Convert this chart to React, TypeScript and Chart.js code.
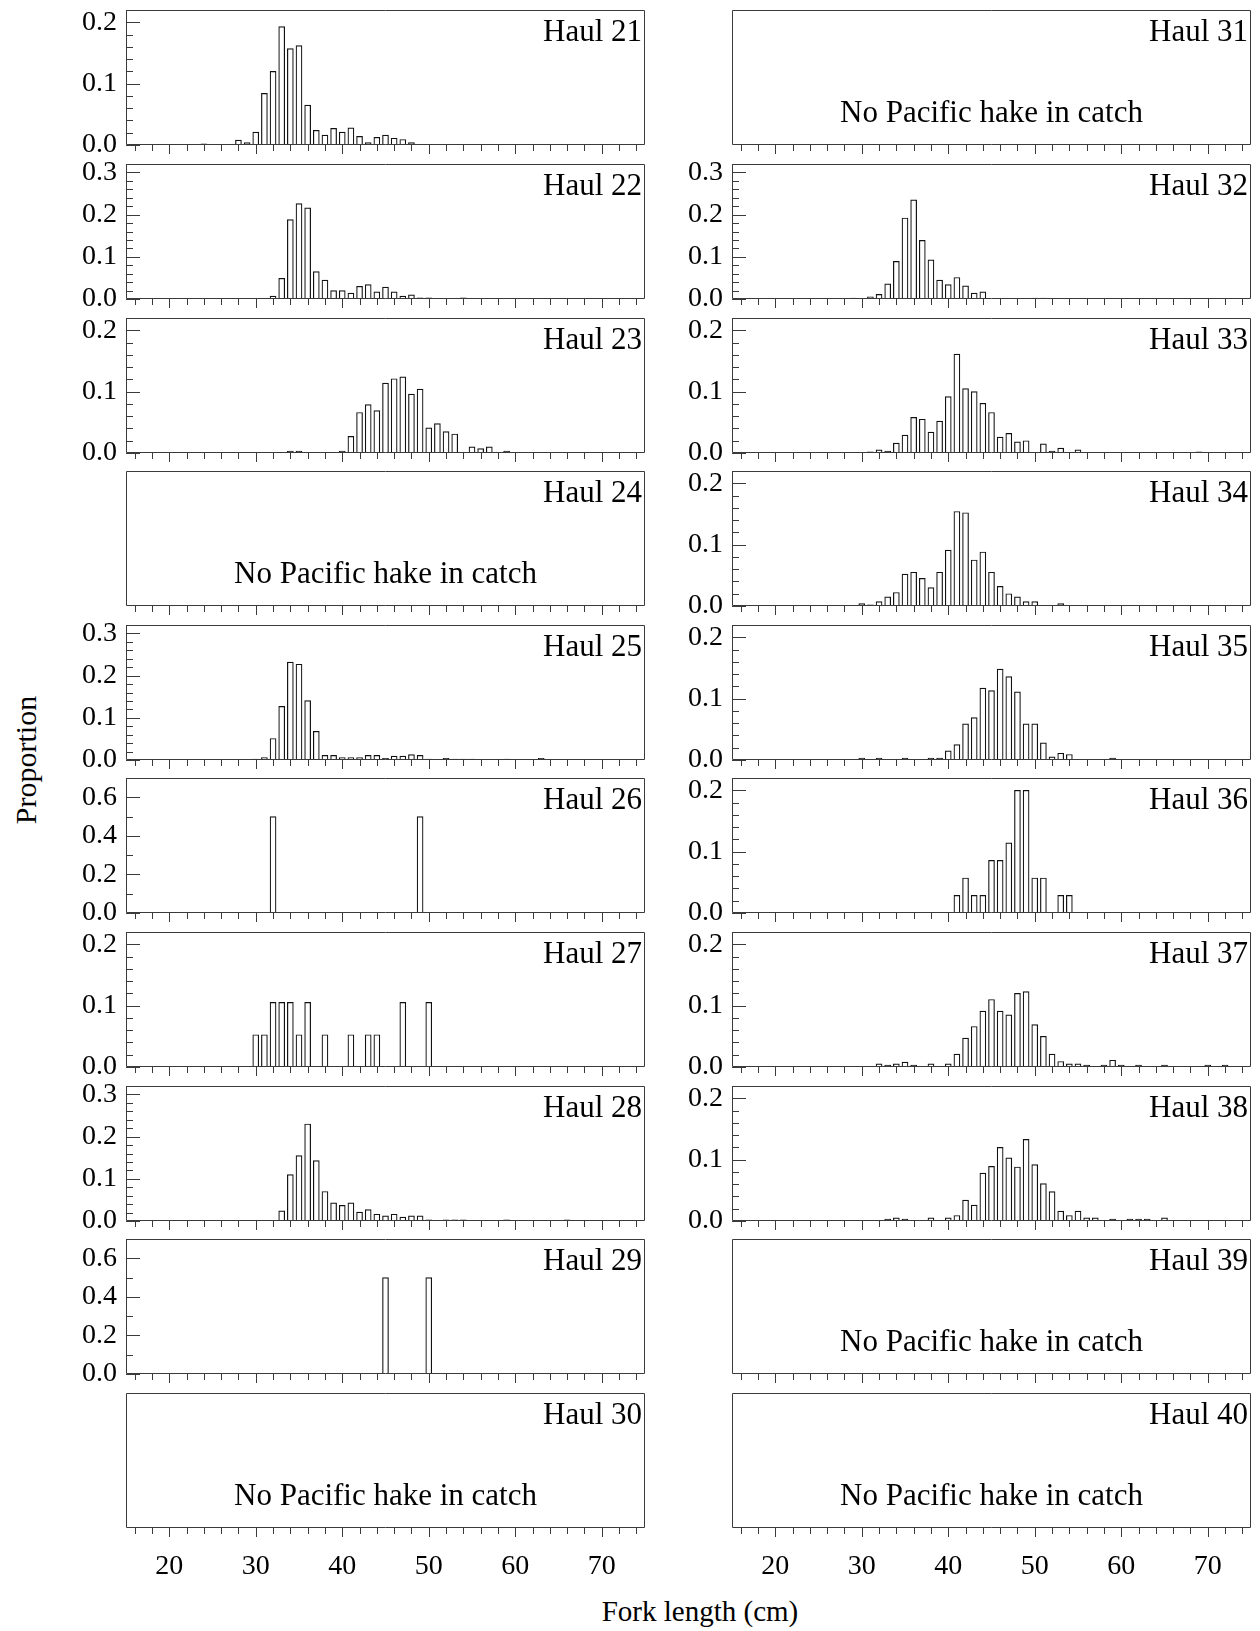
import React, { useEffect, useRef } from "react";
import { Chart, registerables } from "chart.js";

Chart.register(...registerables);

// ---------- data ----------
const haul21Len = [24, 28, 29, 30, 31, 32, 33, 34, 35, 36, 37, 38, 39, 40, 41, 42, 43, 44, 45, 46, 47, 48];
const haul21Prop = [0.002, 0.008, 0.004, 0.021, 0.084, 0.12, 0.193, 0.157, 0.162, 0.065, 0.024, 0.016, 0.027, 0.021, 0.028, 0.014, 0.004, 0.0125, 0.016, 0.011, 0.009, 0.004];

const haul22Len = [32, 33, 34, 35, 36, 37, 38, 39, 40, 41, 42, 43, 44, 45, 46, 47, 48, 49, 50, 54];
const haul22Prop = [0.007, 0.049, 0.188, 0.226, 0.216, 0.065, 0.045, 0.02, 0.02, 0.014, 0.03, 0.034, 0.017, 0.028, 0.017, 0.007, 0.0096, 0.003, 0.003, 0.003];

const haul23Len = [34, 35, 40, 41, 42, 43, 44, 45, 46, 47, 48, 49, 50, 51, 52, 53, 55, 56, 57, 59];
const haul23Prop = [0.003, 0.003, 0.003, 0.027, 0.066, 0.079, 0.069, 0.114, 0.121, 0.124, 0.096, 0.104, 0.041, 0.048, 0.035, 0.031, 0.01, 0.007, 0.01, 0.003];

const haul24Len: number[] = [];
const haul24Prop: number[] = [];

const haul25Len = [30, 31, 32, 33, 34, 35, 36, 37, 38, 39, 40, 41, 42, 43, 44, 45, 46, 47, 48, 49, 50, 52, 53, 54, 55, 59, 63];
const haul25Prop = [0.002, 0.006, 0.051, 0.127, 0.232, 0.227, 0.141, 0.068, 0.011, 0.011, 0.006, 0.006, 0.006, 0.011, 0.011, 0.004, 0.009, 0.009, 0.013, 0.011, 0.002, 0.004, 0.002, 0.002, 0.002, 0.002, 0.004];

const haul26Len = [32, 49];
const haul26Prop = [0.5, 0.5];

const haul27Len = [30, 31, 32, 33, 34, 35, 36, 38, 41, 43, 44, 47, 50];
const haul27Prop = [0.0526, 0.0526, 0.1053, 0.1053, 0.1053, 0.0526, 0.1053, 0.0526, 0.0526, 0.0526, 0.0526, 0.1053, 0.1053];

const haul28Len = [33, 34, 35, 36, 37, 38, 39, 40, 41, 42, 43, 44, 45, 46, 47, 48, 49, 50, 52, 53, 54, 59, 66];
const haul28Prop = [0.024, 0.11, 0.155, 0.23, 0.143, 0.07, 0.043, 0.037, 0.043, 0.021, 0.027, 0.016, 0.012, 0.016, 0.009, 0.012, 0.012, 0.003, 0.003, 0.003, 0.003, 0.003, 0.003];

const haul29Len = [45, 50];
const haul29Prop = [0.5, 0.5];

const haul30Len: number[] = [];
const haul30Prop: number[] = [];

const haul31Len: number[] = [];
const haul31Prop: number[] = [];

const haul32Len = [29, 31, 32, 33, 34, 35, 36, 37, 38, 39, 40, 41, 42, 43, 44, 50, 51];
const haul32Prop = [0.002, 0.005, 0.011, 0.036, 0.089, 0.192, 0.235, 0.139, 0.093, 0.045, 0.034, 0.051, 0.031, 0.014, 0.017, 0.002, 0.002];

const haul33Len = [31, 32, 33, 34, 35, 36, 37, 38, 39, 40, 41, 42, 43, 44, 45, 46, 47, 48, 49, 51, 52, 53, 55, 69];
const haul33Prop = [0.002, 0.005, 0.003, 0.016, 0.029, 0.058, 0.055, 0.034, 0.052, 0.092, 0.161, 0.105, 0.1, 0.081, 0.066, 0.026, 0.032, 0.018, 0.02, 0.015, 0.003, 0.008, 0.005, 0.002];

const haul34Len = [30, 31, 32, 33, 34, 35, 36, 37, 38, 39, 40, 41, 42, 43, 44, 45, 46, 47, 48, 49, 50, 53, 58];
const haul34Prop = [0.004, 0.002, 0.007, 0.015, 0.022, 0.052, 0.055, 0.045, 0.03, 0.055, 0.091, 0.154, 0.152, 0.075, 0.088, 0.055, 0.032, 0.02, 0.015, 0.007, 0.007, 0.004, 0.001];

const haul35Len = [30, 32, 35, 38, 39, 40, 41, 42, 43, 44, 45, 46, 47, 48, 49, 50, 51, 52, 53, 54, 59];
const haul35Prop = [0.003, 0.003, 0.003, 0.003, 0.003, 0.015, 0.025, 0.059, 0.069, 0.117, 0.113, 0.148, 0.136, 0.111, 0.059, 0.059, 0.028, 0.005, 0.011, 0.009, 0.003];

const haul36Len = [41, 42, 43, 44, 45, 46, 47, 48, 49, 50, 51, 53, 54];
const haul36Prop = [0.0286, 0.0571, 0.0286, 0.0286, 0.0857, 0.0857, 0.1143, 0.2, 0.2, 0.0571, 0.0571, 0.0286, 0.0286];

const haul37Len = [32, 33, 34, 35, 36, 38, 40, 41, 42, 43, 44, 45, 46, 47, 48, 49, 50, 51, 52, 53, 54, 55, 56, 58, 59, 60, 62, 65, 70, 72];
const haul37Prop = [0.005, 0.003, 0.005, 0.008, 0.003, 0.005, 0.005, 0.021, 0.047, 0.066, 0.091, 0.11, 0.091, 0.085, 0.12, 0.123, 0.069, 0.05, 0.021, 0.009, 0.005, 0.005, 0.003, 0.003, 0.011, 0.003, 0.003, 0.003, 0.003, 0.003];

const haul38Len = [33, 34, 35, 38, 40, 41, 42, 43, 44, 45, 46, 47, 48, 49, 50, 51, 52, 53, 54, 55, 56, 57, 59, 61, 62, 63, 65];
const haul38Prop = [0.003, 0.005, 0.003, 0.005, 0.005, 0.009, 0.034, 0.026, 0.078, 0.089, 0.12, 0.103, 0.088, 0.133, 0.092, 0.061, 0.048, 0.016, 0.009, 0.016, 0.005, 0.005, 0.003, 0.003, 0.003, 0.003, 0.005];

const haul39Len: number[] = [];
const haul39Prop: number[] = [];

const haul40Len: number[] = [];
const haul40Prop: number[] = [];

const haulNumbers = [21, 22, 23, 24, 25, 26, 27, 28, 29, 30, 31, 32, 33, 34, 35, 36, 37, 38, 39, 40];
const haulLengths = [haul21Len, haul22Len, haul23Len, haul24Len, haul25Len, haul26Len, haul27Len, haul28Len, haul29Len, haul30Len, haul31Len, haul32Len, haul33Len, haul34Len, haul35Len, haul36Len, haul37Len, haul38Len, haul39Len, haul40Len];
const haulProps = [haul21Prop, haul22Prop, haul23Prop, haul24Prop, haul25Prop, haul26Prop, haul27Prop, haul28Prop, haul29Prop, haul30Prop, haul31Prop, haul32Prop, haul33Prop, haul34Prop, haul35Prop, haul36Prop, haul37Prop, haul38Prop, haul39Prop, haul40Prop];

// y-axis maximum and labelled step for each haul
const haulYMax = [0.22, 0.32, 0.22, 0.22, 0.32, 0.7, 0.22, 0.32, 0.7, 0.22, 0.22, 0.32, 0.22, 0.22, 0.22, 0.22, 0.22, 0.22, 0.22, 0.22];
const haulYStep = [0.1, 0.1, 0.1, 0.1, 0.1, 0.2, 0.1, 0.1, 0.2, 0.1, 0.1, 0.1, 0.1, 0.1, 0.1, 0.1, 0.1, 0.1, 0.1, 0.1];
const haulYMinor = [0.02, 0.02, 0.02, 0.02, 0.02, 0.1, 0.02, 0.02, 0.1, 0.02, 0.02, 0.02, 0.02, 0.02, 0.02, 0.02, 0.02, 0.02, 0.02, 0.02];

const xMin = 15;
const xMax = 75;
const xTickLabels = [20, 30, 40, 50, 60, 70];
const xMinorStep = 2;

const emptyText = "No Pacific hake in catch";
const xTitle = "Fork length (cm)";
const yTitle = "Proportion";

// ---------- layout ----------
const FONT = '"Liberation Serif", "Times New Roman", serif';
const COL_X = [126, 732];
const PANEL_W = 519;
const PANEL_H = 135;
const ROW_TOP0 = 10.4;
const ROW_PITCH = 153.6;
const PADL = 70;
const PADT = 16;
const PADR = 8;

type PanelProps = {
  idx: number;
  left: number;
  top: number;
  bottomRow: boolean;
};

function Panel({ idx, left, top, bottomRow }: PanelProps) {
  const ref = useRef<HTMLCanvasElement | null>(null);
  const padB = bottomRow ? 64 : 14;
  const W = PADL + PANEL_W + PADR;
  const H = PADT + PANEL_H + padB;

  useEffect(() => {
    const canvas = ref.current;
    if (!canvas) return;
    const lengths = haulLengths[idx];
    const props = haulProps[idx];
    const empty = lengths.length === 0;
    const yMax = haulYMax[idx];
    const yStep = haulYStep[idx];
    const yMinor = haulYMinor[idx];
    const yMajor: number[] = [];
    for (let v = 0; v <= yMax + 1e-9; v += yStep) yMajor.push(Math.round(v * 1000) / 1000);

    const framePlugin = {
      id: "haulFrame",
      afterDraw(chart: any) {
        const { ctx, chartArea } = chart;
        const { left: l, right: r, top: t, bottom: b } = chartArea;
        const xs = chart.scales.x;
        const ys = chart.scales.y;
        ctx.save();
        ctx.strokeStyle = "#3a3a3a";
        ctx.lineWidth = 1;
        ctx.beginPath();
        ctx.rect(Math.round(l) + 0.5, Math.round(t) + 0.5, Math.round(r - l) - 1, Math.round(b - t) - 1);
        ctx.stroke();
        // x ticks (outward)
        ctx.beginPath();
        for (let v = xMin + 1; v < xMax; v += xMinorStep) {
          const px = Math.round(xs.getPixelForValue(v)) + 0.5;
          const len = v % 10 === 0 ? 9 : 6;
          ctx.moveTo(px, b);
          ctx.lineTo(px, b + len);
        }
        ctx.stroke();
        // y ticks (inward)
        if (!empty) {
          ctx.beginPath();
          const n = Math.floor(yMax / yMinor + 1e-6);
          for (let k = 0; k <= n; k++) {
            const v = k * yMinor;
            const ratio = v / yStep;
            const major = Math.abs(ratio - Math.round(ratio)) < 1e-6;
            const py = Math.round(ys.getPixelForValue(v)) + 0.5;
            ctx.moveTo(l, py);
            ctx.lineTo(l + (major ? 14 : 7), py);
          }
          ctx.stroke();
        }
        // labels
        ctx.fillStyle = "#000";
        ctx.font = `31px ${FONT}`;
        ctx.textAlign = "right";
        ctx.textBaseline = "middle";
        ctx.fillText(`Haul ${haulNumbers[idx]}`, r - 3, t + 23);
        if (empty) {
          ctx.textAlign = "center";
          ctx.fillText(emptyText, (l + r) / 2, t + 104);
        }
        ctx.restore();
      },
    };

    const chart = new Chart(canvas, {
      type: "bar",
      data: {
        datasets: [
          {
            data: lengths.map((len, i) => ({ x: len, y: props[i] })),
            backgroundColor: "#ffffff",
            borderColor: "#111111",
            borderWidth: 1.2,
            barThickness: 6,
            borderSkipped: "start",
          } as any,
        ],
      },
      options: {
        animation: false,
        responsive: false,
        devicePixelRatio: 1,
        events: [],
        layout: { padding: { left: 0, top: PADT, right: PADR, bottom: 0 } },
        plugins: { legend: { display: false }, tooltip: { enabled: false }, title: { display: false } },
        scales: {
          x: {
            type: "linear",
            min: xMin,
            max: xMax,
            offset: false,
            grid: { display: false, drawTicks: false },
            border: { display: false },
            ticks: {
              display: bottomRow,
              autoSkip: false,
              maxRotation: 0,
              padding: 22,
              color: "#000",
              font: { family: FONT, size: 28 },
            },
            afterBuildTicks: (s: any) => {
              s.ticks = xTickLabels.map((v) => ({ value: v }));
            },
            afterFit: (s: any) => {
              s.height = padB;
              s.paddingLeft = 0;
              s.paddingRight = 0;
            },
          },
          y: {
            type: "linear",
            min: 0,
            max: yMax,
            grid: { display: false, drawTicks: false },
            border: { display: false },
            ticks: {
              display: !empty,
              padding: 9,
              color: "#000",
              font: { family: FONT, size: 28 },
              callback: (v: any) => Number(v).toFixed(1),
            },
            afterBuildTicks: (s: any) => {
              s.ticks = yMajor.map((v) => ({ value: v }));
            },
            afterFit: (s: any) => {
              s.width = PADL;
              s.paddingTop = 0;
              s.paddingBottom = 0;
            },
          },
        },
      } as any,
      plugins: [framePlugin as any],
    });
    return () => chart.destroy();
  }, [idx, bottomRow]);

  return (
    <canvas
      ref={ref}
      width={W}
      height={H}
      style={{ position: "absolute", left: left - PADL, top: top - PADT, width: W, height: H }}
    />
  );
}

export default function App() {
  const panels = haulNumbers.map((h, i) => {
    const col = i < 10 ? 0 : 1;
    const row = i % 10;
    const top = Math.round(ROW_TOP0 + row * ROW_PITCH);
    return <Panel key={h} idx={i} left={COL_X[col]} top={top} bottomRow={row === 9} />;
  });
  return (
    <div style={{ position: "absolute", left: 0, top: 0, width: 1260, height: 1631, background: "#fff", overflow: "hidden" }}>
      {panels}
      <div
        style={{
          position: "absolute",
          left: 700 - 150,
          width: 300,
          top: 1611 - 18,
          textAlign: "center",
          fontFamily: FONT,
          fontSize: 29,
          lineHeight: "36px",
          color: "#000",
        }}
      >
        {xTitle}
      </div>
      <div
        style={{
          position: "absolute",
          left: 26 - 100,
          top: 760 - 18,
          width: 200,
          textAlign: "center",
          fontFamily: FONT,
          fontSize: 30,
          lineHeight: "36px",
          color: "#000",
          transform: "rotate(-90deg)",
        }}
      >
        {yTitle}
      </div>
    </div>
  );
}
